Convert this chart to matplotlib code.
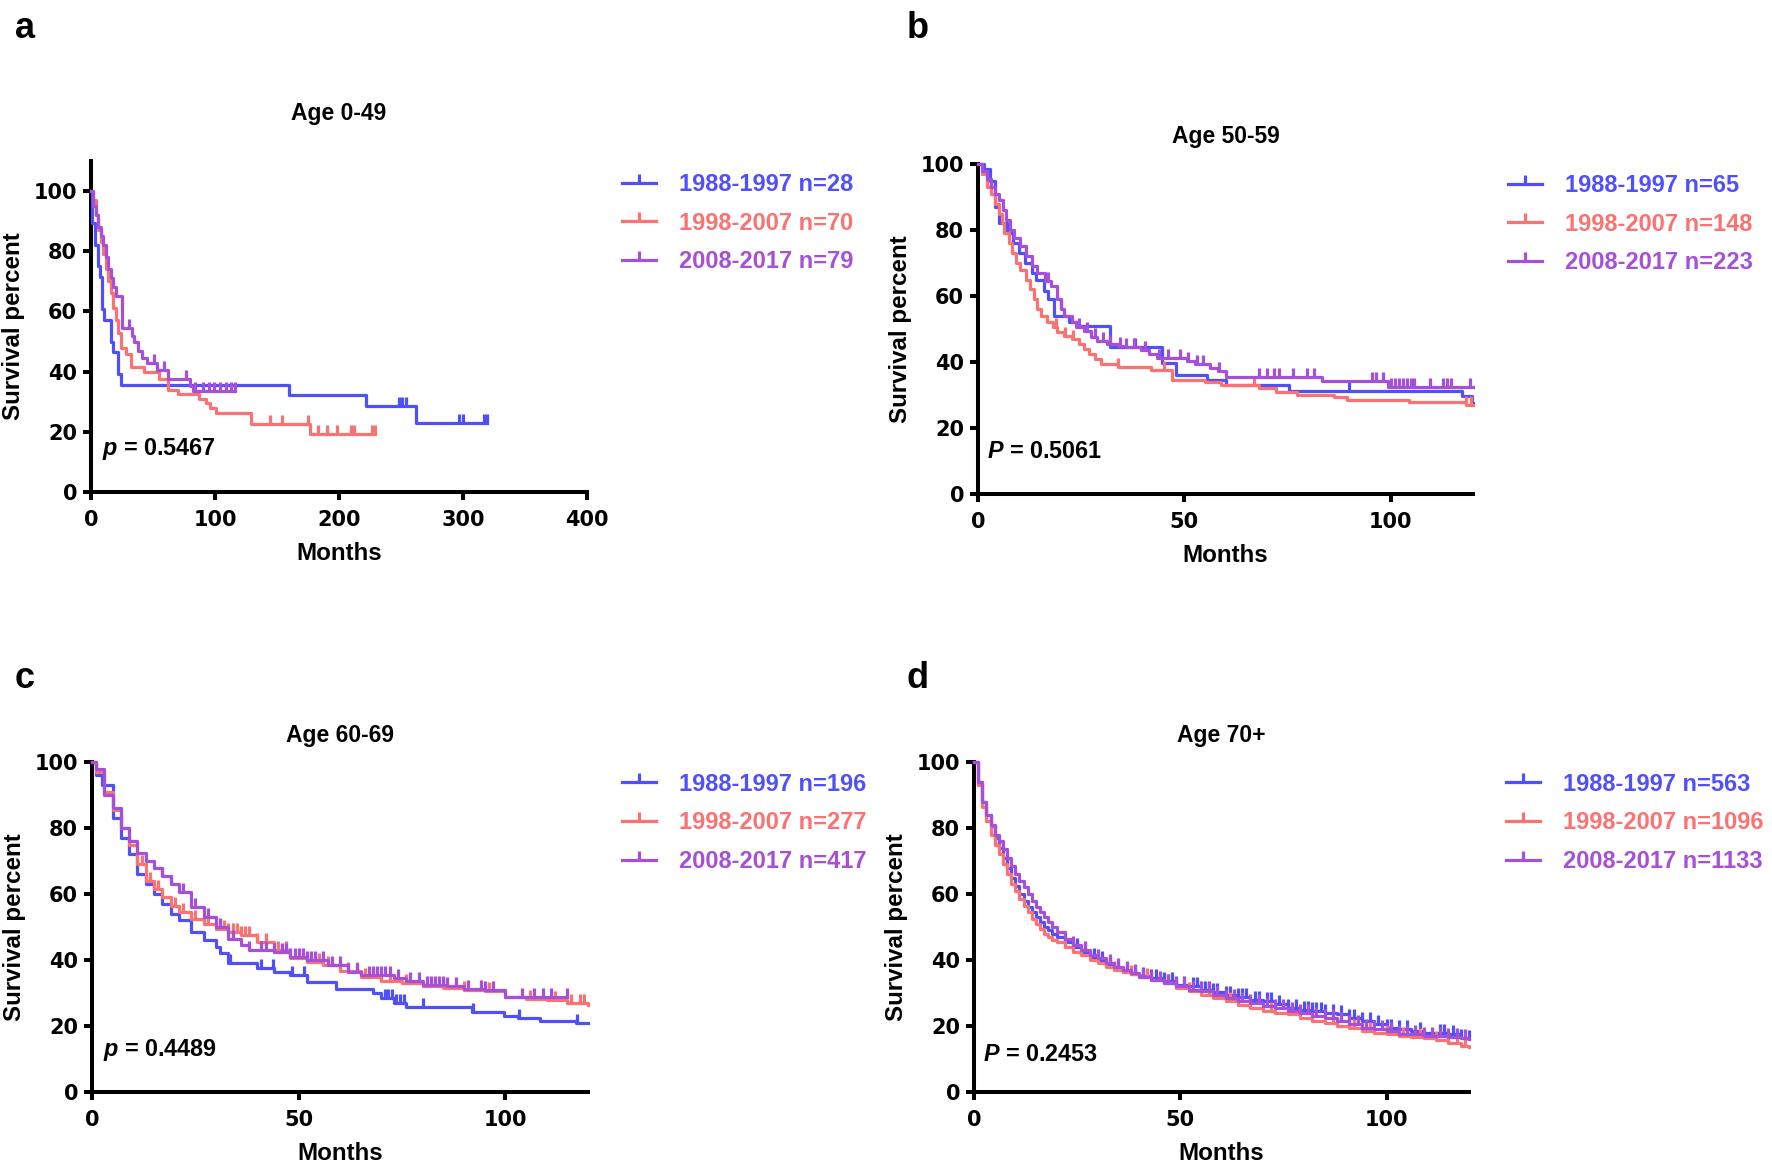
import numpy as np
import matplotlib
matplotlib.use('Agg')
import matplotlib.pyplot as plt
from matplotlib.path import Path
from matplotlib.lines import Line2D

plt.rcParams['font.family'] = ['Liberation Sans', 'DejaVu Sans']
plt.rcParams['font.weight'] = 'bold'
plt.rcParams['mathtext.fontset'] = 'custom'
plt.rcParams['mathtext.it'] = 'Liberation Sans:italic:bold'
plt.rcParams['mathtext.rm'] = 'Liberation Sans:bold'

BLUE = '#5050FA'
RED = '#FA7272'
PURPLE = '#A64FD8'

cohorts = ['1988-1997', '1998-2007', '2008-2017']

# ---------------- panel a : Age 0-49 ----------------
a_n = [28, 70, 79]
a_blue_t = [0, 1, 3.5, 6, 7.5, 8.5, 10.5, 16, 18, 22, 24, 160, 222, 262, 319]
a_blue_s = [100, 89.3, 82.1, 75.0, 71.4, 60.7, 57.1, 50.0, 46.4, 39.3, 35.7, 32.1, 28.6, 22.9, 22.9]
a_blue_c = [248, 251, 254, 297, 300, 317, 319]
a_red_t = [0, 2, 4, 6, 8, 10, 12, 14, 16, 18, 20, 22, 24, 28, 32, 43, 55, 62, 70, 87, 93, 96, 101,
           129, 177, 229]
a_red_s = [100, 97, 92, 87, 83, 79, 74, 70, 66, 61, 57, 53, 48, 45.7, 41.5, 40, 37.7, 34, 32.6, 31,
           29.5, 28, 26.2, 22.7, 19.4, 19.4]
a_red_c = [144, 154, 175, 183, 190, 198, 210, 212, 227, 229]
a_purple_t = [0, 2, 4, 6, 8, 10, 12, 14, 16, 18, 20, 25, 33, 35, 38, 41, 45, 53, 62, 80, 82, 116]
a_purple_s = [100, 95, 92, 88, 85, 82, 78, 74, 71, 68, 65, 54.5, 52, 50, 47, 44.5, 42.9, 40.5,
              37.6, 35.2, 33.5, 33.5]
a_purple_c = [31, 51, 59, 77, 84, 90, 95, 99, 104, 109, 113, 116]

# ---------------- panel b : Age 50-59 ----------------
b_n = [65, 148, 223]
b_blue_t = [0, 1.5, 3, 4, 5, 7, 8.5, 10, 11.5, 13, 14, 16, 17, 18.5, 22, 24, 32, 44.7, 48, 55.4,
            60, 75.5, 117.4, 119.8, 120]
b_blue_s = [100, 98.5, 95, 87, 82, 79, 76, 73, 70, 67, 65, 61.5, 59, 54, 52, 51, 44.6, 39.7, 36,
            34.6, 33, 31.3, 29.6, 27.5, 27.5]
b_blue_c = [38, 90]
b_red_t = [0, 1, 2.2, 3.2, 4.1, 5, 5.8, 6.4, 7.4, 8.3, 9.2, 10.2, 11.6, 12.7, 13.6, 14.4, 15.3,
           16.7, 18.1, 19.2, 20.9, 22.8, 24.6, 25.7, 27, 28.4, 29.8, 34, 41.9, 47, 55, 59, 68,
           72.2, 77.3, 86.2, 89.5, 104.4, 118.4, 120]
b_red_s = [100, 97, 93, 91, 88, 85, 82, 79, 76, 73, 70, 68, 65, 62, 59, 56, 54, 52, 50.5, 49, 48,
           47, 45.5, 44, 42.5, 41, 39.5, 38.6, 37.5, 34.6, 33.8, 33, 32, 30.9, 30, 29.3, 28.5,
           27.8, 27, 27]
b_red_c = [19, 21, 23, 34, 45, 67, 118.4, 119.5]
b_purple_t = [0, 1, 2.2, 3.2, 4.1, 5, 6, 6.9, 7.8, 8.8, 10.2, 11.6, 13, 14.4, 16.2, 17.6, 19.2,
              20, 20.9, 22.8, 23.7, 25.6, 27.4, 28.8, 31.2, 34, 35.8, 39.6, 41.4, 43.3, 50.7,
              52.6, 56.3, 58.2, 60, 83.4, 99.3, 120]
b_purple_s = [100, 98, 95.5, 93, 91, 89, 86, 83, 80, 77.5, 75, 72, 69, 66.9, 64.5, 62.9, 59, 56,
              54, 52, 50.5, 49.5, 47.5, 46.5, 45.5, 45, 44.5, 43.5, 42.5, 41.2, 40.2, 39.3, 38.3,
              37.3, 35.6, 34.3, 32.5, 32.5]
b_purple_c = [17, 20, 24.6, 26.5, 28.4, 30.2, 32, 34.5, 35.8, 37.7, 40.5, 43.8, 46, 48.9, 51,
              53, 54.5, 58.5, 68, 70, 71.7, 73, 76.4, 79.7, 81.5, 95.5, 96.5, 98.3, 100.2, 101.1,
              102.1, 103, 103.9, 104.9, 105.8, 109.5, 112.8, 113.7, 114.6, 119.3]

# ---------------- panel c : Age 60-69 ----------------
c_n = [196, 277, 417]
c_blue_t = [0, 1, 2.3, 5, 7, 9, 11, 13, 15, 17, 19, 21, 24, 27, 30, 31, 33, 40, 44, 48, 52, 59,
            68, 70, 73, 76, 92, 99.6, 103, 108.5, 117, 120]
c_blue_s = [100, 96, 93, 83, 77, 72, 66, 63, 60, 57, 54, 52, 48.5, 46, 44, 42, 39, 37.7, 36.5,
            35.4, 33.4, 31.3, 30, 28.5, 27, 25.8, 24.3, 23, 22.3, 21.5, 20.8, 20.8]
c_blue_c = [33.5, 41, 43.8, 48.4, 51.2, 70.8, 71.7, 72.6, 73.6, 74.5, 75.4, 80.1, 92.2, 103.4,
            117.3]
c_red_t = [0, 1, 3, 5, 7, 9, 11, 13, 15, 17, 19, 21, 24, 27, 30, 33, 36, 40, 44, 48, 52, 56, 60,
           65, 70, 75, 80, 85, 90, 95, 100, 105, 110, 115, 120]
c_red_s = [100, 97, 91, 85.5, 80, 75, 69, 64, 61.5, 59, 56.5, 54.5, 52.5, 51, 49.5, 48.5, 47.5,
           45.5, 43, 40.5, 39.3, 38.5, 36.7, 34.8, 33.5, 33, 32, 31.5, 31, 30.5, 28.8, 28.3, 27.8,
           27, 26.3]
c_red_c = [12, 14, 16, 20, 22, 25, 28, 31, 32, 33, 34, 35, 36, 37, 38, 40, 42, 45, 47, 50, 53,
           55, 57, 60, 62, 64, 66, 68, 72, 76, 82, 86, 90, 96, 106, 112, 116, 118, 119]
c_purple_t = [0, 1, 3, 5, 7, 9, 11, 13, 15, 17, 19, 21, 24, 27, 30, 33, 36, 38, 44, 48, 52, 57,
              62, 65, 73, 76, 80, 86, 90, 95, 100, 115]
c_purple_s = [100, 98, 90, 86, 80, 76, 72.5, 70, 68, 65.5, 63, 60.5, 56, 53, 50, 46.5, 44.5, 43,
              42.5, 41, 40, 38.5, 36.5, 35.5, 34.5, 33.5, 32.5, 32, 31.3, 31, 28.7, 28.7]
c_purple_c = [17, 19, 22, 25, 28, 31, 34, 38, 41, 42, 44, 46, 47, 48, 49, 50, 51, 52, 53, 54, 56,
              58, 60, 62, 64, 67, 68, 69, 70, 71, 72, 74, 77, 79, 81, 82, 83, 84, 85, 86, 88, 91,
              94, 95, 97, 104, 107, 109, 111, 115]

# ---------------- panel d : Age 70+ ----------------
d_n = [563, 1096, 1133]
d_t = [0, 1, 2, 3, 4, 5, 6, 7, 8, 9, 10, 11, 12, 13, 14, 15, 16, 17, 18, 19, 20, 22, 24, 26, 28,
       30, 32, 34, 36, 38, 40, 43, 46, 49, 52, 55, 58, 61, 64, 67, 70, 73, 76, 79, 82, 85, 88, 91,
       94, 97, 100, 103, 106, 109, 112, 115, 118, 120]
d_blue_s = [100, 94, 88, 84, 80.5, 77, 74, 71, 68, 65, 62.5, 60, 58, 56, 54.5, 53, 51.5, 50, 49,
            48, 47, 45.5, 44, 42.5, 41, 40, 38.5, 37.5, 36.5, 35.8, 35.2, 34.5, 33.5, 32.5, 32, 31,
            30.2, 29.5, 28.8, 28, 27.5, 26.8, 25.5, 25, 24.5, 24, 23.5, 22.5, 21.5, 20.5, 19.5, 19,
            18.5, 18, 18, 17.5, 16.5, 16]
d_red_s = [100, 93, 86.5, 82, 78, 75, 72, 69, 66, 63, 61, 58.5, 56.5, 54.5, 52.5, 51, 49.5, 48,
           47, 46, 45.5, 44, 42.5, 41.5, 40, 39, 38, 37, 36.5, 35.8, 35, 34, 33, 31.5, 30.5, 29.5,
           28.5, 27.5, 26.5, 25.5, 24.5, 24, 23.5, 22.5, 21.5, 21, 20, 19.5, 18.5, 18, 17.5, 17,
           16.8, 16.5, 15.8, 14.8, 14, 13.5]
d_purple_s = [100, 94, 88, 84, 81, 78, 76, 73.5, 71, 68.5, 66, 64, 62, 60, 58, 56, 54.5, 53,
              51.5, 50, 48.5, 46.5, 44.5, 43, 41.5, 40.5, 39, 38, 37, 36, 35, 34, 33, 32, 31, 30.5,
              29.5, 28.5, 27.5, 27, 26, 25.5, 24.5, 24, 23, 22.5, 21.5, 20.5, 19.5, 19, 18.5, 17.5,
              17.5, 17, 17, 16.8, 16.5, 16]
d_blue_c = [22, 25, 27, 29, 31, 33, 35, 37, 39, 41, 43, 44, 46, 48, 49, 51, 53, 54, 55, 56, 57,
            58, 59, 61, 62, 64, 65, 66, 68, 69, 71, 72, 74, 76, 78, 80, 81, 82, 83, 84, 85, 87,
            89, 91, 92, 94, 96, 98, 100, 101, 103, 105, 108, 113, 114, 116, 118, 120]
d_red_c = [30, 34, 38, 42, 47, 52, 57, 62, 67, 72, 77, 82, 87, 92, 96, 100, 104, 108, 112, 115,
           117, 119]
d_purple_c = [24, 27, 30, 33, 35, 37, 39, 41, 43, 45, 47, 49, 51, 53, 55, 57, 59, 61, 63, 65,
              67, 69, 71, 73, 75, 77, 79, 81, 83, 85, 87, 89, 91, 93, 95, 97, 99, 101, 103, 105,
              107, 109, 111, 113, 115, 117, 119]

# a tick that points up from the curve (censored subject)
censor = Path([(0, 0), (0, 1)], [Path.MOVETO, Path.LINETO])
LW = 2.3


def km(ax, t, s, c, color):
    t = np.asarray(t, float)
    s = np.asarray(s, float)
    ax.step(t, s, where='post', color=color, lw=LW, clip_on=False, zorder=3)
    c = np.asarray(c, float)
    idx = np.searchsorted(t, c, side='right') - 1
    ax.plot(c, s[idx], ls='none', marker=censor, ms=13, mew=LW, color=color,
            clip_on=False, zorder=3)


def style(ax, xmax, xticks, ymax):
    ax.set_xlim(0, xmax)
    ax.set_ylim(0, ymax)
    ax.set_xticks(xticks)
    ax.set_yticks([0, 20, 40, 60, 80, 100])
    for side in ['top', 'right']:
        ax.spines[side].set_visible(False)
    for side in ['left', 'bottom']:
        ax.spines[side].set_linewidth(2.9)
    ax.tick_params(width=2.9, length=6)
    ax.tick_params(axis='x', pad=7)
    ax.tick_params(axis='y', pad=4)
    for lab in ax.get_xticklabels() + ax.get_yticklabels():
        lab.set_fontfamily('DejaVu Sans')
        lab.set_fontweight('bold')
        lab.set_fontsize(15)
    ax.text(0.5, -0.185, 'Months', transform=ax.transAxes, ha='center', va='center',
            fontsize=17.4, fontweight='bold')
    ax.text(-0.157, 0.5, 'Survival percent', transform=ax.transAxes, ha='center', va='center',
            rotation=90, fontsize=17.4, fontweight='bold')


def legend(ax, n, x0, yc):
    handles = [Line2D([], [], color=col, lw=LW, marker=censor, ms=13, mew=LW)
               for col in [BLUE, RED, PURPLE]]
    labels = ['{0} n={1}'.format(cohorts[i], n[i]) for i in range(3)]
    leg = ax.legend(handles, labels, loc='center left', bbox_to_anchor=(x0, yc),
                    frameon=False, fontsize=17, handlelength=1.45, handletextpad=0.95,
                    labelspacing=0.66, borderpad=0, borderaxespad=0, numpoints=1)
    for txt, col in zip(leg.get_texts(), [BLUE, RED, PURPLE]):
        txt.set_color(col)
        txt.set_fontweight('bold')


W, H = 1772, 1174
fig = plt.figure(figsize=(W / 100, H / 100), dpi=100)


def axes_px(left, top, right, bottom):
    return fig.add_axes([left / W, 1 - bottom / H, (right - left) / W, (bottom - top) / H])


axa = axes_px(91, 161, 587, 492)
axb = axes_px(978, 164, 1473, 494)
axc = axes_px(92, 762, 588, 1092)
axd = axes_px(974, 762, 1469, 1092)

km(axa, a_blue_t, a_blue_s, a_blue_c, BLUE)
km(axa, a_red_t, a_red_s, a_red_c, RED)
km(axa, a_purple_t, a_purple_s, a_purple_c, PURPLE)
style(axa, 400, [0, 100, 200, 300, 400], 110)
axa.text(0.5, 1.142, 'Age 0-49', transform=axa.transAxes, ha='center', va='center', fontsize=16.5)
axa.text(0.022, 0.13, '$p$ = 0.5467', transform=axa.transAxes, ha='left', va='center',
         fontsize=16.8)
legend(axa, a_n, 1.071, 0.812)

km(axb, b_blue_t, b_blue_s, b_blue_c, BLUE)
km(axb, b_red_t, b_red_s, b_red_c, RED)
km(axb, b_purple_t, b_purple_s, b_purple_c, PURPLE)
style(axb, 120, [0, 50, 100], 100)
axb.text(0.5, 1.082, 'Age 50-59', transform=axb.transAxes, ha='center', va='center', fontsize=16.5)
axb.text(0.018, 0.13, '$P$ = 0.5061', transform=axb.transAxes, ha='left', va='center',
         fontsize=16.8)
legend(axb, b_n, 1.071, 0.818)

km(axc, c_blue_t, c_blue_s, c_blue_c, BLUE)
km(axc, c_red_t, c_red_s, c_red_c, RED)
km(axc, c_purple_t, c_purple_s, c_purple_c, PURPLE)
style(axc, 120, [0, 50, 100], 100)
axc.text(0.5, 1.079, 'Age 60-69', transform=axc.transAxes, ha='center', va='center', fontsize=16.5)
axc.text(0.022, 0.127, '$p$ = 0.4489', transform=axc.transAxes, ha='left', va='center',
         fontsize=16.8)
legend(axc, c_n, 1.069, 0.816)

km(axd, d_t, d_blue_s, d_blue_c, BLUE)
km(axd, d_t, d_red_s, d_red_c, RED)
km(axd, d_t, d_purple_s, d_purple_c, PURPLE)
style(axd, 120, [0, 50, 100], 100)
axd.text(0.5, 1.079, 'Age 70+', transform=axd.transAxes, ha='center', va='center', fontsize=16.5)
axd.text(0.018, 0.115, '$P$ = 0.2453', transform=axd.transAxes, ha='left', va='center',
         fontsize=16.8)
legend(axd, d_n, 1.075, 0.816)

for letter, x, y in [('a', 25, 28), ('b', 918, 28), ('c', 25, 678), ('d', 918, 678)]:
    fig.text(x / W, 1 - y / H, letter, ha='center', va='center', fontsize=26, fontweight='bold')

fig.savefig('out.png', dpi=100, facecolor='white')
